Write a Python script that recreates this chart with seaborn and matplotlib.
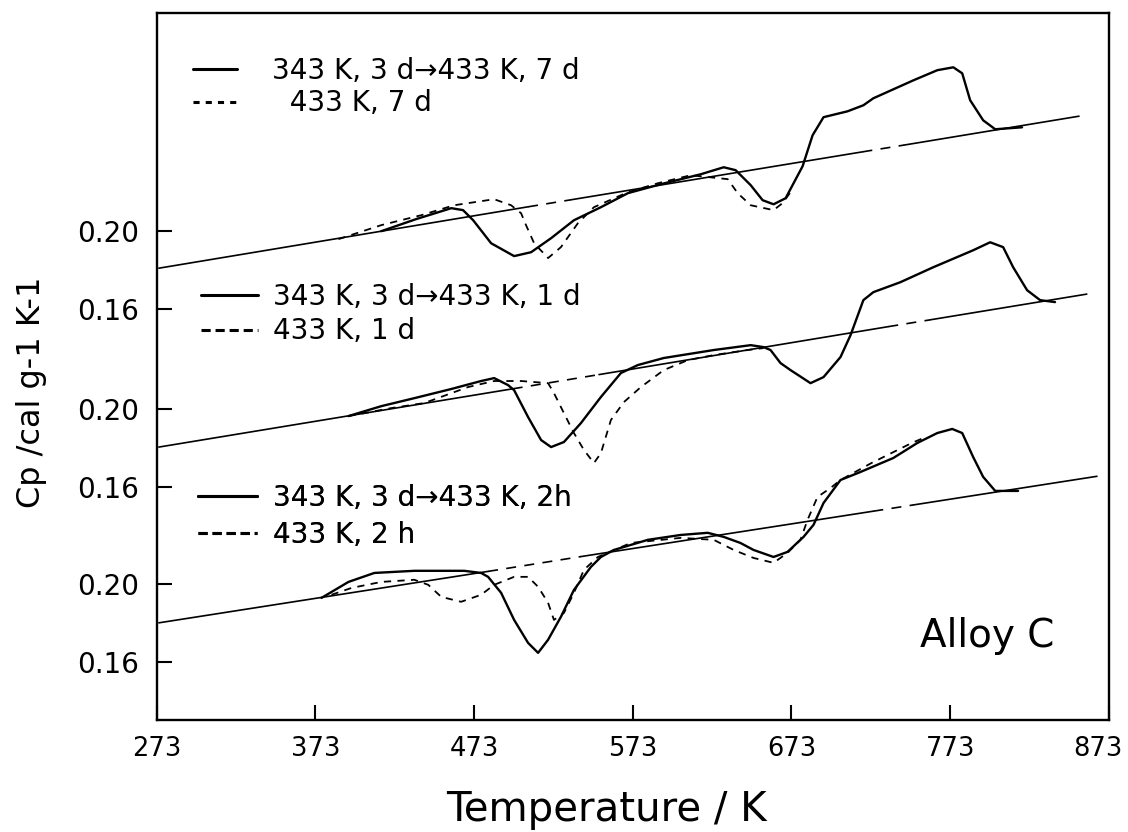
import numpy as np
import pandas as pd
import seaborn as sns
import matplotlib.pyplot as plt
import matplotlib.transforms as mtransforms
from matplotlib.lines import Line2D

# Cp curves of Alloy C, T in K, Cp in cal g-1 K-1 (each panel read on its own scale)
# top panel: 343 K, 3 d -> 433 K, 7 d  (solid) and 433 K, 7 d (dashed)
t_7d_two = [414.5, 436.5, 458.6, 466.0, 472.4, 483.7, 498.2, 508.9, 521.5, 535.9, 552.9, 569.9,
            590.6, 615.8, 630.3, 637.8, 647.3, 654.8, 661.7, 669.3, 680.0, 686.3, 693.2, 708.3,
            718.3, 724.6, 749.8, 764.9, 775.0, 780.6, 785.6, 793.8, 801.4, 818.3]
cp_7d_two = [0.2000, 0.2062, 0.2118, 0.2108, 0.2056, 0.1938, 0.1872, 0.1892, 0.1964, 0.2056, 0.2123, 0.2195,
             0.2241, 0.2292, 0.2328, 0.2313, 0.2236, 0.2159, 0.2138, 0.2169, 0.2333, 0.2492, 0.2585, 0.2615,
             0.2646, 0.2682, 0.2774, 0.2826, 0.2841, 0.2810, 0.2672, 0.2569, 0.2523, 0.2533]
t_7d_one = [387.5, 414.5, 439.7, 460.4, 485.6, 496.3, 502.6, 505.7, 510.8, 519.6, 527.7, 538.4,
            548.5, 569.9, 588.8, 609.5, 632.8, 639.1, 647.3, 661.7, 667.4, 672.4]
cp_7d_one = [0.1959, 0.2031, 0.2082, 0.2133, 0.2164, 0.2133, 0.2092, 0.2031, 0.1938, 0.1862, 0.1918, 0.2041,
             0.2123, 0.2200, 0.2246, 0.2287, 0.2267, 0.2195, 0.2133, 0.2108, 0.2144, 0.2200]

# middle panel: 1 d
t_1d_two = [393.8, 414.5, 435.3, 458.6, 477.4, 485.6, 494.4, 498.2, 507.0, 515.2, 521.5, 529.6,
            540.3, 552.9, 565.5, 576.2, 592.5, 624.0, 647.3, 655.4, 659.8, 666.1, 672.4, 685.0,
            693.2, 703.9, 710.2, 718.3, 724.6, 741.6, 762.4, 787.5, 798.2, 806.4, 812.7, 821.5,
            829.7, 839.1]
cp_1d_two = [0.1964, 0.2015, 0.2056, 0.2103, 0.2144, 0.2159, 0.2123, 0.2097, 0.1959, 0.1841, 0.1805, 0.1831,
             0.1928, 0.2062, 0.2185, 0.2226, 0.2262, 0.2303, 0.2328, 0.2318, 0.2303, 0.2236, 0.2200, 0.2133,
             0.2164, 0.2267, 0.2379, 0.2559, 0.2600, 0.2651, 0.2728, 0.2815, 0.2856, 0.2831, 0.2728, 0.2610,
             0.2559, 0.2549]
t_1d_one = [393.8, 420.8, 441.6, 469.2, 485.6, 502.6, 519.6, 523.3, 529.6, 535.9, 542.2, 548.5,
            552.9, 559.2, 567.4, 578.1, 592.5, 607.6, 624.0, 645.4, 655.4]
cp_1d_one = [0.1964, 0.2005, 0.2031, 0.2113, 0.2144, 0.2144, 0.2133, 0.2082, 0.1979, 0.1877, 0.1790, 0.1723,
             0.1774, 0.1944, 0.2036, 0.2113, 0.2200, 0.2251, 0.2277, 0.2303, 0.2313]

# bottom panel: 2 h
t_2h_two = [376.8, 393.8, 410.1, 435.3, 466.7, 477.4, 481.8, 490.0, 498.2, 507.0, 513.3, 519.6,
            527.7, 535.9, 546.6, 552.9, 561.1, 582.5, 603.2, 620.2, 630.3, 640.8, 649.1, 661.7,
            670.5, 680.6, 686.9, 693.2, 703.9, 716.4, 737.2, 752.3, 764.9, 774.3, 780.6, 787.5,
            793.8, 801.4, 815.8]
cp_2h_two = [0.1928, 0.2010, 0.2056, 0.2067, 0.2067, 0.2056, 0.2036, 0.1954, 0.1815, 0.1697, 0.1646, 0.1713,
             0.1831, 0.1969, 0.2087, 0.2138, 0.2174, 0.2226, 0.2251, 0.2262, 0.2241, 0.2210, 0.2174, 0.2138,
             0.2164, 0.2241, 0.2303, 0.2415, 0.2533, 0.2574, 0.2646, 0.2723, 0.2774, 0.2795, 0.2774, 0.2651,
             0.2549, 0.2477, 0.2477]
t_2h_one = [383.1, 395.7, 414.5, 435.3, 444.1, 452.3, 464.8, 477.4, 485.6, 498.2, 507.0, 513.3,
            519.6, 523.3, 529.6, 535.9, 542.2, 551.0, 571.8, 603.2, 624.0, 636.6, 649.1, 661.7,
            670.5, 678.7, 683.1, 689.4, 697.6, 703.9, 723.6, 748.8, 756.3]
cp_2h_one = [0.1944, 0.1979, 0.2010, 0.2021, 0.1995, 0.1933, 0.1908, 0.1944, 0.1995, 0.2036, 0.2036, 0.1985,
             0.1903, 0.1815, 0.1851, 0.1954, 0.2072, 0.2138, 0.2210, 0.2236, 0.2226, 0.2174, 0.2133, 0.2108,
             0.2159, 0.2226, 0.2328, 0.2446, 0.2492, 0.2533, 0.2621, 0.2723, 0.2749]

# reference (baseline) lines, break points and how each piece is drawn
base_t = {'7 d': [274.3, 507.0, 534.0, 717.7, 744.1, 854.2],
          '1 d': [274.3, 497.3, 551.7, 734.0, 760.4, 859.1],
          '2 h': [274.3, 481.8, 540.3, 724.6, 749.8, 865.5]}
base_cp = {'7 d': [0.1810, 0.2125, 0.2161, 0.2407, 0.2442, 0.2590],
           '1 d': [0.1805, 0.2104, 0.2177, 0.2423, 0.2458, 0.2590],
           '2 h': [0.1800, 0.2064, 0.2140, 0.2373, 0.2405, 0.2552]}
base_kind = ['solid', 'gap', 'solid', 'gap', 'solid']

panels = ['7 d', '1 d', '2 h']
offset = {'7 d': 0.181, '1 d': 0.0897, '2 h': 0.0}
curves = {'7 d': (t_7d_two, cp_7d_two, t_7d_one, cp_7d_one),
          '1 d': (t_1d_two, cp_1d_two, t_1d_one, cp_1d_one),
          '2 h': (t_2h_two, cp_2h_two, t_2h_one, cp_2h_one)}
labels = {'7 d': ['343 K, 3 d\u2192433 K, 7 d', '  433 K, 7 d'],
          '1 d': ['343 K, 3 d\u2192433 K, 1 d', '433 K, 1 d'],
          '2 h': ['343 K, 3 d\u2192433 K, 2h', '433 K, 2 h']}
tick_vals = [0.16, 0.20]
x_ticks = [273, 373, 473, 573, 673, 773, 873]

sns.set_style('ticks')
plt.rcParams['font.family'] = ['DejaVu Sans']
plt.rcParams['text.color'] = 'black'
plt.rcParams['axes.labelcolor'] = 'black'

fig, ax = plt.subplots(figsize=(11.28, 8.32), dpi=100)
fig.subplots_adjust(left=0.139, right=0.983, top=0.984, bottom=0.135)

rows = []
for p in panels:
    for i, k in enumerate(base_kind):
        for j in (i, i + 1):
            rows.append({'T': base_t[p][j], 'Cp': base_cp[p][j] + offset[p], 'seg': p + str(i), 'kind': k})
base = pd.DataFrame(rows)
sns.lineplot(data=base, x='T', y='Cp', units='seg', style='kind', estimator=None, color='black',
             lw=1.2, dashes={'solid': '', 'gap': (6, 5)}, legend=False, ax=ax)

for p in panels:
    t2, c2, t1, c1 = curves[p]
    sns.lineplot(x=t2, y=np.array(c2) + offset[p], color='black', lw=1.7, sort=False, ax=ax)
    sns.lineplot(x=t1, y=np.array(c1) + offset[p], color='black', lw=1.3, sort=False,
                 linestyle=(0, (4, 3.5)), ax=ax)

# one small legend per panel
leg_pos = {'7 d': (0.038, 0.938), '1 d': (0.046, 0.618), '2 h': (0.043, 0.334)}
leg_dash = {'7 d': (0, (2, 2)), '1 d': (0, (3, 1.6)), '2 h': (0, (3, 1.6))}
leg_gap = {'7 d': 0.15, '1 d': 0.22, '2 h': 0.32}
leg_len = {'7 d': 1.6, '1 d': 2.05, '2 h': 2.15}
leg_pad = {'7 d': 1.26, '1 d': 0.55, '2 h': 0.55}
for p in panels:
    handles = [Line2D([], [], color='black', lw=2.2),
               Line2D([], [], color='black', lw=2.2, linestyle=leg_dash[p])]
    leg = ax.legend(handles, labels[p], loc='upper left', bbox_to_anchor=leg_pos[p], frameon=False,
                    fontsize=20, handlelength=leg_len[p], handletextpad=leg_pad[p], borderpad=0,
                    borderaxespad=0, labelspacing=leg_gap[p])
    ax.add_artist(leg)

ax.text(0.872, 0.118, 'Alloy C', transform=ax.transAxes, fontsize=28, ha='center', va='center')

yt, yl = [], []
for p in panels:
    for v in tick_vals:
        yt.append(v + offset[p])
        yl.append(f'{v:.2f}')
ax.set_yticks(yt)
ax.set_yticklabels(yl)
ax.set_xticks(x_ticks)

ax.set_xlim(273, 873)
ax.set_ylim(0.1303, 0.4928)
ax.tick_params(axis='both', direction='in', length=11, width=1.5, colors='black')
ax.tick_params(axis='x', labelsize=18.5, pad=12)
ax.tick_params(axis='y', labelsize=20, pad=13)
for s in ax.spines.values():
    s.set_linewidth(1.7)
    s.set_color('black')

# last x label sits a little to the left of its tick, as in the print
last = ax.get_xticklabels()[-1]
last.set_transform(last.get_transform() + mtransforms.ScaledTranslation(-0.11, 0, fig.dpi_scale_trans))

ax.set_xlabel('Temperature / K', fontsize=29)
ax.xaxis.set_label_coords(0.472, -0.099)
ax.set_ylabel('Cp /cal g-1 K-1', fontsize=23)
ax.yaxis.set_label_coords(-0.115, 0.464)

plt.savefig('out.png', dpi=100)
